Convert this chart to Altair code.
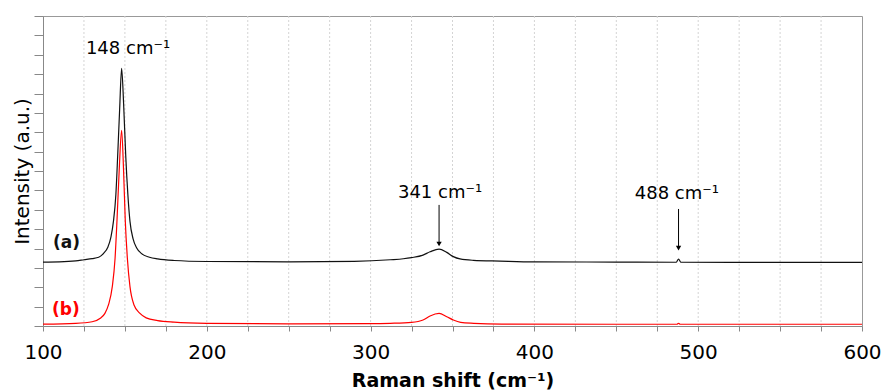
import altair as alt
import pandas as pd

# Raman spectrum (a): Raman shift (cm^-1) and stacked intensity (a.u.)
shift_a = [100, 110, 120, 125, 130, 134, 137, 139.5, 141.5, 143, 144.5, 145.6, 146.8,
           148, 149.2, 150.5, 151.8, 153.1, 155, 157.2, 160, 165, 170, 180, 200,
           250, 290, 312, 320, 325, 332, 336.3, 341.8, 346.5, 350.5, 354.6, 362.7,
           379, 400, 450, 486.5, 488, 489.5, 520, 560, 600]
intensity_a = [3.30, 3.31, 3.36, 3.42, 3.48, 3.55, 3.75, 4.05, 4.60, 5.40, 6.80, 8.80, 11.2,
               13.3, 11.5, 8.80, 6.80, 5.40, 4.50, 4.03, 3.75, 3.55, 3.46, 3.38, 3.33,
               3.31, 3.34, 3.42, 3.47, 3.53, 3.66, 3.83, 3.97, 3.80, 3.58, 3.46, 3.39,
               3.35, 3.31, 3.30, 3.29, 3.45, 3.29, 3.28, 3.28, 3.28]

# Raman spectrum (b)
shift_b = [100, 120, 130, 135, 137.8, 140, 142.3, 144, 145.2, 146.5, 148, 149.2, 150.2,
           151.5, 153.1, 155.5, 159.2, 163, 170, 180, 200, 250, 300, 312, 325, 332,
           336.3, 341.8, 346.5, 350.5, 355, 363, 380, 450, 487, 488, 489, 540, 600]
intensity_b = [0.10, 0.14, 0.22, 0.40, 0.65, 1.10, 2.03, 3.50, 5.50, 8.00, 10.1, 8.00, 5.50,
               3.50, 2.03, 1.10, 0.65, 0.42, 0.28, 0.20, 0.14, 0.11, 0.12, 0.14, 0.19, 0.31,
               0.52, 0.65, 0.48, 0.31, 0.19, 0.14, 0.10, 0.09, 0.09, 0.14, 0.09, 0.09, 0.09]

series_names = ["(a)", "(b)"]
series_colors = ["#111111", "#ff0000"]

# Tick positions along the shift axis (every 25 cm^-1); grid lines between the ends
x_ticks = list(range(100, 601, 25))
grid_positions = list(range(125, 600, 25))
y_ticks = list(range(0, 17))

# Peak annotations
peak_text = ["148 cm⁻¹", "341 cm⁻¹", "488 cm⁻¹"]
peak_text_x = [151.9, 342.4, 487.0]
peak_text_y = [14.04, 6.61, 6.55]

# Arrows pointing at the weaker peaks
arrow_x = [341.8, 488.0]
arrow_top = [6.25, 6.04]
arrow_head = [4.23, 4.02]

# Series tags
tag_text = ["(a)", "(b)"]
tag_x = [106.1, 105.5]
tag_y = [4.03, 0.57]

FONT = "DejaVu Sans"

spectra = pd.concat([
    pd.DataFrame({"shift": shift_a, "intensity": intensity_a, "series": series_names[0]}),
    pd.DataFrame({"shift": shift_b, "intensity": intensity_b, "series": series_names[1]}),
])
grid = pd.DataFrame({"x": grid_positions})
peaks = pd.DataFrame({"x": peak_text_x, "y": peak_text_y, "text": peak_text})
arrows = pd.DataFrame({"x": arrow_x, "y": arrow_top, "y2": arrow_head})
tags = pd.DataFrame({"x": tag_x, "y": tag_y, "text": tag_text, "series": series_names})

x_scale = alt.Scale(domain=[100, 600], nice=False, zero=False)
y_scale = alt.Scale(domain=[0, 16], nice=False, zero=False)
color_scale = alt.Scale(domain=series_names, range=series_colors)

x_axis = alt.Axis(
    title="Raman shift (cm⁻¹)",
    values=x_ticks,
    labelExpr="datum.value % 100 === 0 ? datum.label : ''",
    format="d",
    tickSize=5,
    labelPadding=11,
    labelFontSize=20,
    labelFont=FONT,
    labelColor="#000000",
    labelOverlap=False,
    titleFont=FONT,
    titleFontSize=19,
    titleFontWeight="bold",
    titleColor="#000000",
    titlePadding=9,
    grid=False,
    domainColor="#888888",
    tickColor="#888888",
    labelFlush=False,
)
y_axis = alt.Axis(
    title="Intensity (a.u.)",
    values=y_ticks,
    labels=False,
    tickSize=9,
    grid=False,
    titleFont=FONT,
    titleFontSize=20,
    titleFontWeight="normal",
    titleColor="#000000",
    titlePadding=1,
    domainColor="#888888",
    tickColor="#888888",
)

X = lambda field: alt.X(field, scale=x_scale, axis=x_axis)
Y = lambda field: alt.Y(field, scale=y_scale, axis=y_axis)

gridlines = alt.Chart(grid).mark_rule(
    color="#d4d4d4", strokeWidth=1, strokeDash=[2, 2]
).encode(x=X("x:Q"))

lines = alt.Chart(spectra).mark_line(strokeWidth=1.2, interpolate="monotone").encode(
    x=X("shift:Q"),
    y=Y("intensity:Q"),
    color=alt.Color("series:N", scale=color_scale, legend=None),
)

peak_labels = alt.Chart(peaks).mark_text(
    font=FONT, fontSize=18, align="center", baseline="alphabetic", color="#000000"
).encode(
    x=X("x:Q"),
    y=Y("y:Q"),
    text="text:N",
)

shafts = alt.Chart(arrows).mark_rule(color="#000000", strokeWidth=1).encode(
    x=X("x:Q"),
    y=Y("y:Q"),
    y2="y2:Q",
)
heads = alt.Chart(arrows).mark_point(
    shape="triangle-down", filled=True, size=28, color="#000000", opacity=1
).encode(
    x=X("x:Q"),
    y=Y("y2:Q"),
)

tag_labels = alt.Chart(tags).mark_text(
    font=FONT, fontSize=17, fontWeight="bold", align="left", baseline="alphabetic"
).encode(
    x=X("x:Q"),
    y=Y("y:Q"),
    text="text:N",
    color=alt.Color("series:N", scale=color_scale, legend=None),
)

chart = alt.layer(gridlines, lines, shafts, heads, peak_labels, tag_labels).properties(
    width=819,
    height=310,
    autosize=alt.AutoSizeParams(type="none"),
    padding={"left": 43, "top": 16, "right": 23, "bottom": 64},
    background="#ffffff",
).configure_view(stroke="#999999", strokeWidth=1)

chart.save("out.html", embed_options={"renderer": "svg", "actions": False})
